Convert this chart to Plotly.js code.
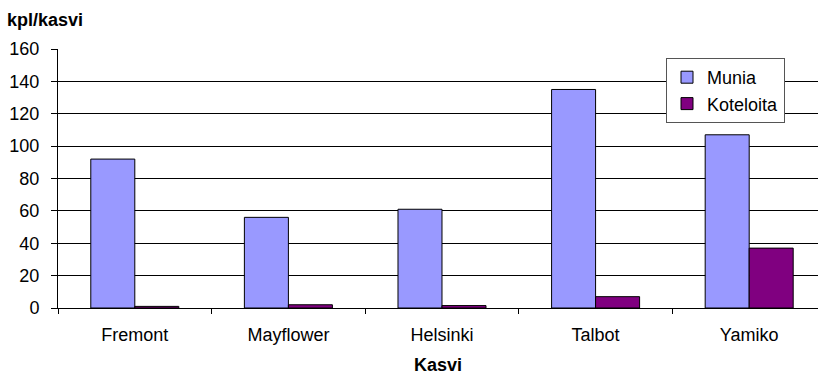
<!DOCTYPE html>
<html>
<head>
<meta charset="utf-8">
<script src="https://cdn.plot.ly/plotly-3.0.1.min.js"></script>
<style>
  html, body { margin: 0; padding: 0; background: #fff; }
  #chart { width: 818px; height: 375px; }
</style>
</head>
<body>
<div id="chart"></div>
<script>
// Cultivars and counts per plant
const categories = ['Fremont', 'Mayflower', 'Helsinki', 'Talbot', 'Yamiko'];
const munia = [92, 56, 61, 135, 107];
const koteloita = [1, 2, 1.5, 7, 37];
const yTicks = [0, 20, 40, 60, 80, 100, 120, 140, 160];

const FONT = 'Liberation Sans, Arial, sans-serif';

const traces = [
  {
    type: 'bar',
    name: 'Munia',
    x: categories,
    y: munia,
    marker: { color: '#9999FF', line: { color: '#000000', width: 1 } },
    hoverinfo: 'x+y+name'
  },
  {
    type: 'bar',
    name: 'Koteloita',
    x: categories,
    y: koteloita,
    marker: { color: '#800080', line: { color: '#000000', width: 1 } },
    hoverinfo: 'x+y+name'
  }
];

const layout = {
  width: 818,
  height: 375,
  margin: { l: 58, r: 0, t: 49, b: 67, pad: 0 },
  paper_bgcolor: '#ffffff',
  plot_bgcolor: '#ffffff',
  font: { family: FONT, size: 18, color: '#000000' },
  barmode: 'group',
  bargap: 0.427,
  bargroupgap: 0,
  showlegend: true,
  title: {
    text: '<b>kpl/kasvi</b>',
    font: { family: FONT, size: 18, color: '#000000' },
    xref: 'container', yref: 'container',
    x: 7 / 818, xanchor: 'left',
    y: 1 - 20 / 375, yanchor: 'middle'
  },
  xaxis: {
    type: 'category',
    range: [-0.5, 4.448],
    showgrid: false,
    zeroline: false,
    showline: true,
    linecolor: '#000000',
    linewidth: 1,
    ticks: 'outside',
    tickson: 'boundaries',
    ticklen: 5,
    tickcolor: '#000000',
    ticklabelstandoff: 10,
    tickfont: { family: FONT, size: 18, color: '#000000' },
    title: {
      text: '<b>Kasvi</b>',
      font: { family: FONT, size: 18, color: '#000000' },
      standoff: 18
    },
    fixedrange: true
  },
  yaxis: {
    range: [0, 160],
    tickvals: yTicks,
    ticktext: yTicks.map(String),
    showgrid: true,
    gridcolor: '#000000',
    gridwidth: 1,
    zeroline: false,
    showline: true,
    linecolor: '#000000',
    linewidth: 1,
    ticks: 'outside',
    ticklen: 6,
    tickcolor: '#000000',
    ticklabelstandoff: 8,
    tickfont: { family: FONT, size: 18, color: '#000000' },
    fixedrange: true
  },
  legend: {
    x: (666 - 58) / 760,
    xanchor: 'left',
    y: (308 - 58) / 259,
    yanchor: 'top',
    bgcolor: '#ffffff',
    bordercolor: '#555555',
    borderwidth: 1,
    font: { family: FONT, size: 18, color: '#000000' },
    itemwidth: 30,
    tracegroupgap: 0
  }
};

Plotly.newPlot('chart', traces, layout, { displayModeBar: false, staticPlot: true });
</script>
</body>
</html>
